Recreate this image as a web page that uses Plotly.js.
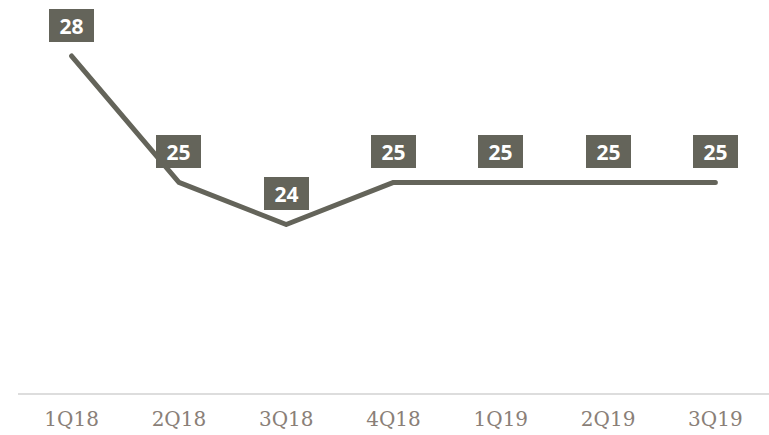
<!DOCTYPE html>
<html>
<head>
<meta charset="utf-8">
<script src="https://cdn.plot.ly/plotly-3.0.1.min.js"></script>
<style>
html,body{margin:0;padding:0;background:#fff;}
#chart{width:769px;height:435px;}
path.js-line{stroke-linecap:round !important;stroke-linejoin:round !important;}
</style>
</head>
<body>
<div id="chart"></div>
<script>
const categories = ["1Q18", "2Q18", "3Q18", "4Q18", "1Q19", "2Q19", "3Q19"];
const values = [28, 25, 24, 25, 25, 25, 25];
const labels = ["28", "25", "24", "25", "25", "25", "25"];

const lineColor = "#64645a";

const trace = {
  type: "scatter",
  mode: "lines",
  x: categories,
  y: values,
  line: {color: lineColor, width: 5},
  hoverinfo: "skip"
};

const annotations = categories.map((c, i) => ({
  x: c,
  y: values[i],
  xref: "x",
  yref: "y",
  text: labels[i],
  showarrow: false,
  yshift: 31,
  width: 45,
  height: 33,
  bgcolor: lineColor,
  borderpad: 0,
  borderwidth: 0,
  font: {family: "Open Sans", size: 21, color: "#ffffff", weight: "bold"}
}));

const layout = {
  width: 769,
  height: 435,
  margin: {l: 18, r: 0, t: 0, b: 42},
  paper_bgcolor: "#ffffff",
  plot_bgcolor: "#ffffff",
  showlegend: false,
  xaxis: {
    type: "category",
    range: [-0.5, 6.5],
    showgrid: false,
    zeroline: false,
    showline: true,
    linecolor: "#dddddd",
    linewidth: 2,
    ticks: "",
    ticklabelstandoff: 7,
    tickfont: {family: "DejaVu Serif", size: 20, color: "#8a7f78"},
    fixedrange: true
  },
  yaxis: {
    range: [20, 29.33],
    showgrid: false,
    zeroline: false,
    showline: false,
    showticklabels: false,
    ticks: "",
    fixedrange: true
  },
  annotations: annotations
};

Plotly.newPlot("chart", [trace], layout, {displayModeBar: false, staticPlot: true});
</script>
</body>
</html>
